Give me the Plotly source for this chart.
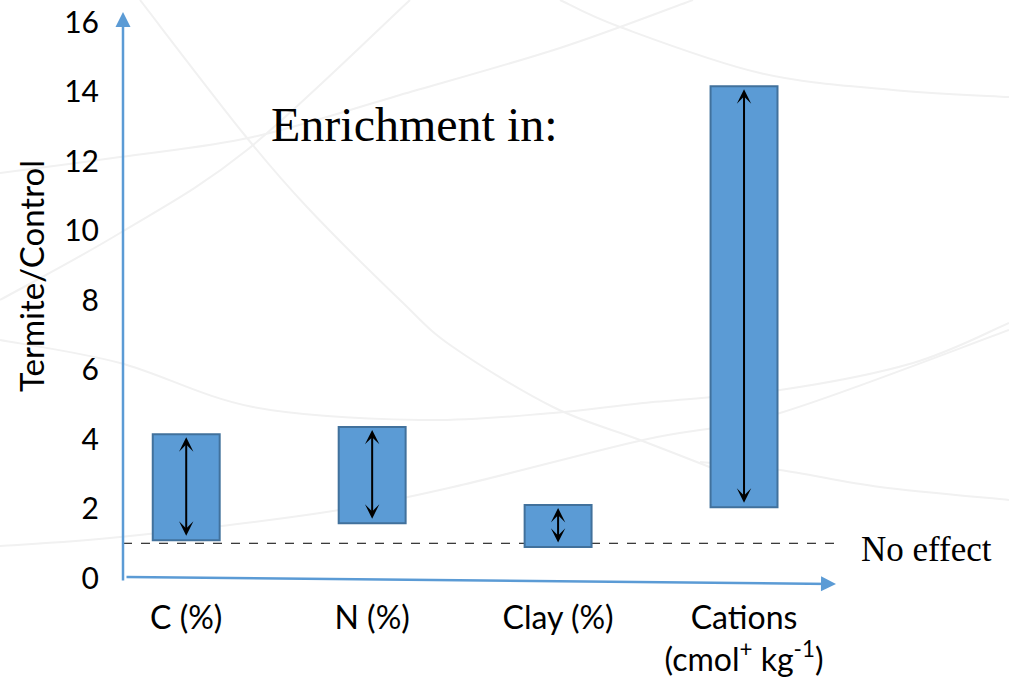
import plotly.graph_objects as go

categories = ["C (%)", "N (%)", "Clay (%)", "Cations<br>(cmol<sup>+</sup> kg<sup>-1</sup>)"]
low_values = [1.09, 1.58, 0.89, 2.04]
high_values = [4.14, 4.35, 2.10, 14.16]
y_ticks = [0, 2, 4, 6, 8, 10, 12, 14, 16]
no_effect_level = 1.0

BLUE = "#5B9BD5"
EDGE = "#41719C"
AXIS = "#5B9BD5"

# page -> paper (plot area spans page x 123..837, y 12..578)
def P(X, Y):
    return (X - 123) / 714, (578 - Y) / 566

def smooth_path(points):
    pts = [P(*p) for p in points]
    s = "M %.5f,%.5f " % pts[0]
    n = len(pts)
    for i in range(n - 1):
        p0 = pts[i - 1] if i > 0 else pts[i]
        p1 = pts[i]
        p2 = pts[i + 1]
        p3 = pts[i + 2] if i + 2 < n else pts[i + 1]
        c1 = (p1[0] + (p2[0] - p0[0]) / 6, p1[1] + (p2[1] - p0[1]) / 6)
        c2 = (p2[0] - (p3[0] - p1[0]) / 6, p2[1] - (p3[1] - p1[1]) / 6)
        s += "C %.5f,%.5f %.5f,%.5f %.5f,%.5f " % (c1 + c2 + p2)
    return s

fig = go.Figure()
fig.add_trace(go.Bar(
    x=categories,
    y=[h - l for h, l in zip(high_values, low_values)],
    base=low_values,
    width=0.36,
    marker=dict(color=BLUE, line=dict(color=EDGE, width=2)),
    hoverinfo="skip",
))

# faint decorative background curves
curves = [
    [(140, 0), (243, 133), (307, 207), (400, 300), (453, 347), (553, 407), (640, 440), (730, 475)],
    [(0, 300), (120, 233), (247, 150), (410, 0)],
    [(0, 173), (120, 157), (253, 137), (400, 95), (560, 48), (693, 0)],
    [(560, 0), (620, 27), (760, 73), (893, 90), (1009, 97)],
    [(0, 340), (120, 363), (253, 407), (420, 420), (553, 413), (643, 403), (780, 390), (913, 363), (1009, 323)],
    [(0, 546), (120, 537), (320, 513), (453, 487), (643, 440), (780, 413), (1009, 330)],
    [(700, 462), (780, 470), (880, 487), (1009, 500)],
]
for c in curves:
    fig.add_shape(type="path", path=smooth_path(c), xref="paper", yref="paper",
                  line=dict(color="#f1f1f1", width=2), layer="below")

# no-effect dashed line
fig.add_shape(type="line", xref="paper", yref="y", x0=0, x1=1,
              y0=no_effect_level, y1=no_effect_level,
              line=dict(color="black", width=1, dash="dash"), layer="below")

# double-headed arrows in bars
for cat, lo, hi in zip(categories, low_values, high_values):
    fig.add_annotation(x=cat, y=hi, ax=cat, ay=lo, xref="x", yref="y",
                       axref="x", ayref="y", text="", showarrow=True,
                       arrowhead=3, startarrowhead=3, arrowside="end+start",
                       arrowwidth=2, arrowsize=1.2, startarrowsize=1.2,
                       standoff=3, startstandoff=3, arrowcolor="black")

# axes drawn as arrows
tx, ty = P(123, 12)
fig.add_annotation(x=tx, y=ty, xref="paper", yref="paper", ax=0, ay=570,
                   text="", showarrow=True, arrowhead=2, arrowwidth=2.5,
                   arrowsize=1.2, arrowcolor=AXIS)
tx, ty = P(836, 584)
fig.add_annotation(x=tx, y=ty, xref="paper", yref="paper", ax=-711, ay=-7,
                   text="", showarrow=True, arrowhead=2, arrowwidth=2.5,
                   arrowsize=1.2, arrowcolor=AXIS)

px, py = P(31, 276)
fig.add_annotation(x=px, y=py, xref="paper", yref="paper", text="Termite/Control",
                   textangle=-90, showarrow=False, xanchor="center", yanchor="middle",
                   font=dict(family="Lato", size=33, color="black"))
px, py = P(414, 125)
fig.add_annotation(x=px, y=py, xref="paper", yref="paper",
                   text="Enrichment in:", showarrow=False, xanchor="center", yanchor="middle",
                   font=dict(family="Liberation Serif", size=48, color="black"))
px, py = P(859, 549)
fig.add_annotation(x=px, y=py, xref="paper", yref="paper",
                   xanchor="left", yanchor="middle", text="No effect", showarrow=False,
                   font=dict(family="Liberation Serif", size=35, color="black"))

fig.update_layout(
    width=1009, height=684,
    margin=dict(l=123, r=172, t=12, b=106, autoexpand=False),
    paper_bgcolor="white", plot_bgcolor="rgba(0,0,0,0)",
    showlegend=False,
    xaxis=dict(type="category", range=[-0.34, 3.5], showgrid=False, zeroline=False,
               showline=False, ticks="", ticklabelstandoff=18, automargin=False,
               tickfont=dict(family="Lato", size=32, color="black")),
    yaxis=dict(range=[0, 16.3], tickvals=y_ticks, showgrid=False, zeroline=False,
               showline=False, ticks="", ticklabelstandoff=23, automargin=False,
               ticklabeloverflow="allow",
               tickfont=dict(family="Lato", size=30, color="black")),
)

fig.write_html("out.html", config={"displayModeBar": False},
               post_script="document.body.style.margin='0';document.body.style.overflow='hidden';")
